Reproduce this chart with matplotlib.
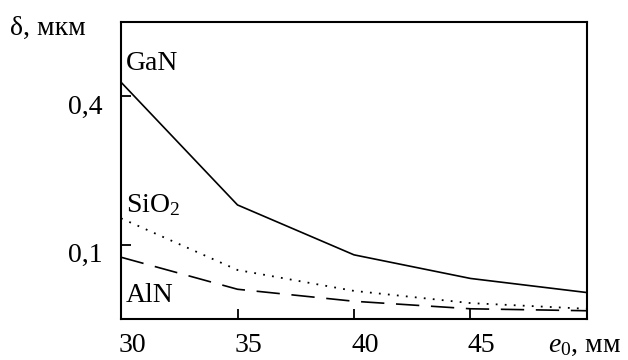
import matplotlib.pyplot as plt
import matplotlib.transforms as mtransforms
from matplotlib.ticker import NullLocator

# ----------------------------------------
# data
# ----------------------------------------
e0 = [30, 35, 40, 45, 50]
gan = [0.456, 0.145, 0.091, 0.073, 0.064]
sio2 = [0.128, 0.079, 0.065, 0.058, 0.055]
aln = [0.089, 0.066, 0.059, 0.055, 0.054]

x_ticks = [30, 35, 40, 45]
x_tick_labels = ["30", "35", "40", "45"]
y_ticks = [0.1, 0.4]
y_tick_labels = ["0,1", "0,4"]

plt.rcParams["font.family"] = ["Liberation Serif", "DejaVu Serif"]
plt.rcParams["mathtext.fontset"] = "custom"
plt.rcParams["mathtext.rm"] = "Liberation Serif"
plt.rcParams["mathtext.it"] = "Liberation Serif:italic"

FS = 20

fig = plt.figure(figsize=(6.28, 3.6), dpi=100)
ax = fig.add_axes([0.1927, 0.1139, 0.742, 0.825])

ax.plot(e0, gan, color="black", lw=1.2, linestyle="-")
ax.plot(e0, sio2, color="black", lw=1.3, linestyle=(0, (1, 4)))
ax.plot(e0, aln, color="black", lw=1.2, linestyle=(0, (14, 7)))

ax.set_yscale("log")
ax.set_xlim(30, 50)
ax.set_ylim(0.05, 0.8)

ax.set_xticks(x_ticks)
ax.set_xticklabels(x_tick_labels, fontsize=FS)
ax.set_yticks(y_ticks)
ax.set_yticklabels(y_tick_labels, fontsize=FS)
ax.yaxis.set_minor_locator(NullLocator())

ax.tick_params(direction="in", length=7, width=1.3)
ax.tick_params(axis="y", pad=13)
ax.tick_params(axis="x", pad=10)

for sp in ax.spines.values():
    sp.set_linewidth(1.5)

# tick labels sit a bit off their ticks in the original
dx = mtransforms.ScaledTranslation(11 / 100, 0, fig.dpi_scale_trans)
for lab in ax.get_xticklabels():
    lab.set_transform(lab.get_transform() + dx)
dy = mtransforms.ScaledTranslation(0, -8 / 100, fig.dpi_scale_trans)
for lab in ax.get_yticklabels():
    lab.set_transform(lab.get_transform() + dy)

# curve names
ax.text(0.01, 0.86, "GaN", transform=ax.transAxes, fontsize=FS, va="center")
ax.text(0.01, 0.385, "SiO$_2$", transform=ax.transAxes, fontsize=FS, va="center")
ax.text(0.01, 0.08, "AlN", transform=ax.transAxes, fontsize=FS, va="center")

# axis titles
fig.text(10 / 628, 1 - 28 / 360, "δ, мкм", fontsize=FS, va="center", ha="left")
fig.text(548 / 628, 1 - 345 / 360, r"$\mathit{e}_0$, мм", fontsize=FS,
         va="center", ha="left")

fig.savefig("out.png", dpi=100)
